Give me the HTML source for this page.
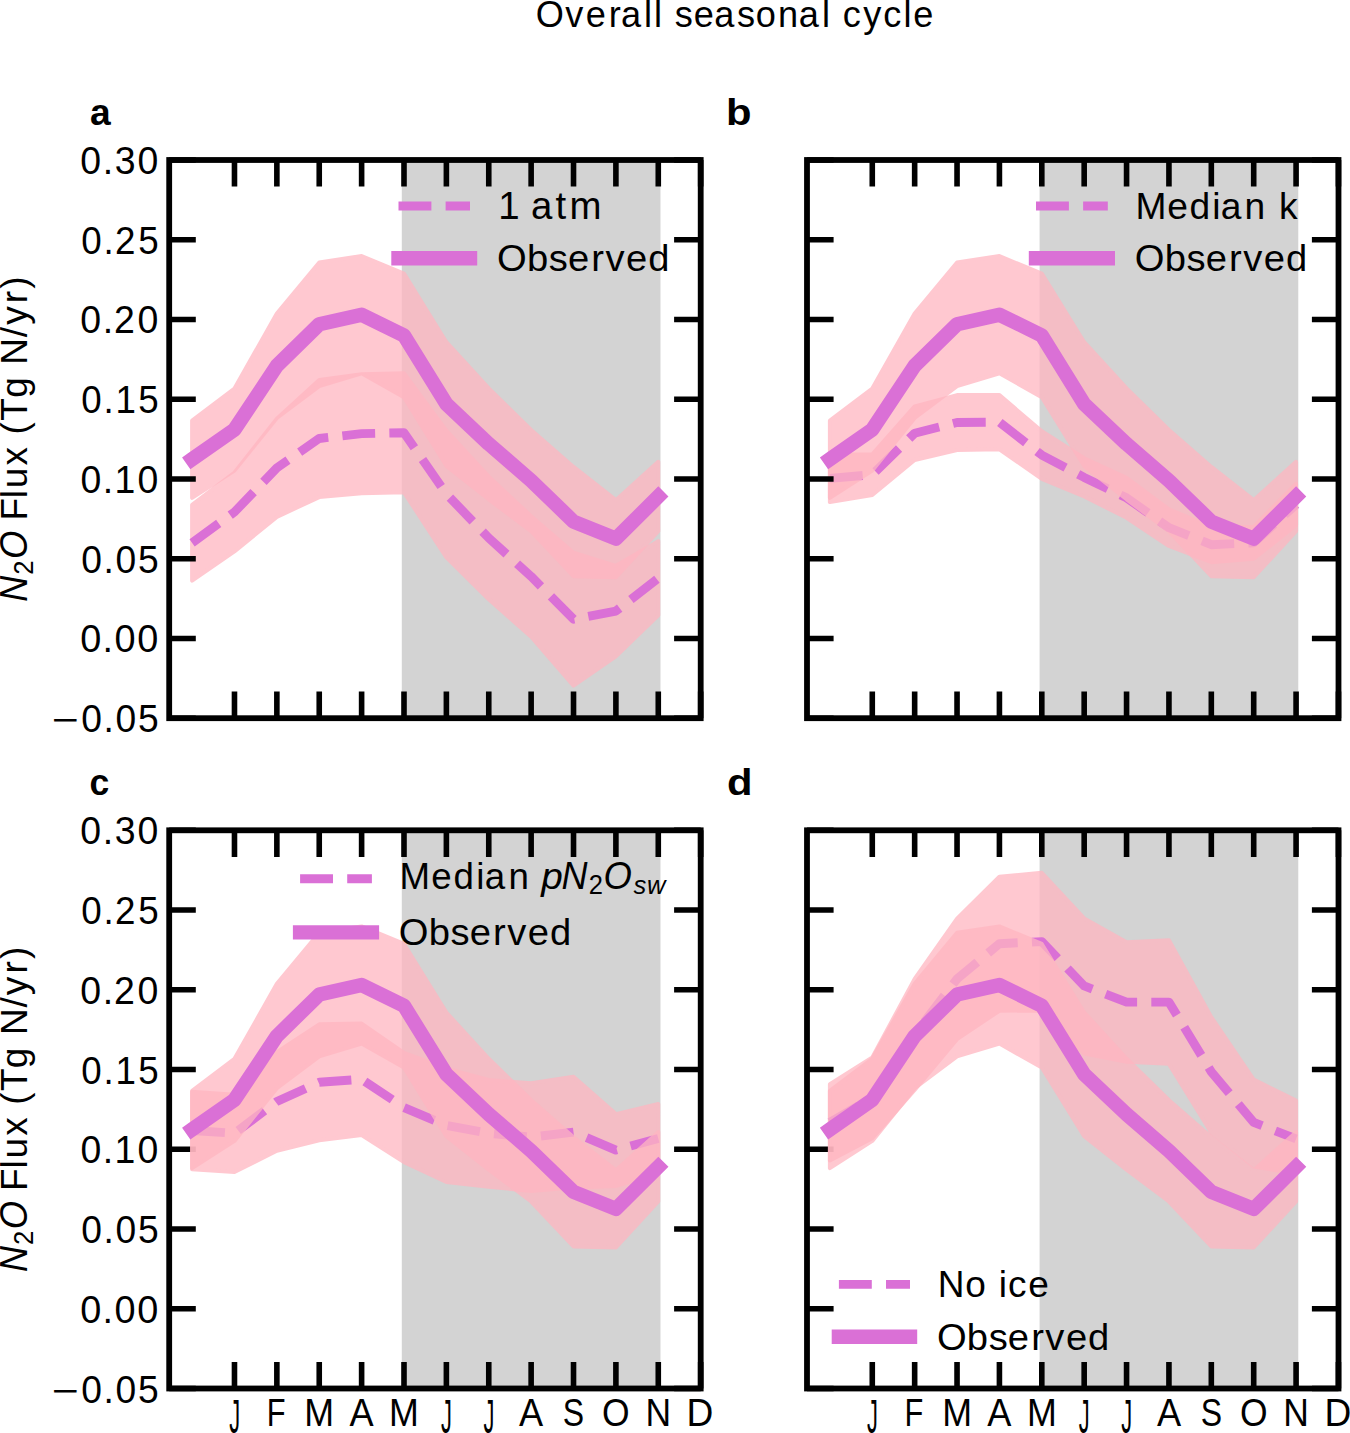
<!DOCTYPE html>
<html><head><meta charset="utf-8"><title>Overall seasonal cycle</title>
<style>html,body{margin:0;padding:0;background:#fff;width:1350px;height:1433px;overflow:hidden;}svg{display:block;}text{font-family:"Liberation Sans",sans-serif;fill:#000;}</style>
</head><body>
<svg width="1350" height="1433" viewBox="0 0 1350 1433">
<rect width="1350" height="1433" fill="#fff"/>
<rect x="401.80" y="160.0" width="258.68" height="558.2" fill="#D3D3D3"/>
<path d="M192.10,504.90 L234.48,472.52 L276.86,418.77 L319.24,379.86 L361.62,374.12 L404.00,373.16 L446.38,430.57 L488.76,476.67 L531.14,516.22 L573.52,552.74 L615.90,565.82 L658.28,541.10 L658.28,615.26 L615.90,656.25 L573.52,685.60 L531.14,636.64 L488.76,599.32 L446.38,557.37 L404.00,492.30 L361.62,493.25 L319.24,497.08 L276.86,516.86 L234.48,551.47 L192.10,580.65 Z" fill="#FFB6C1" stroke="#FFB6C1" stroke-width="3.9872500000000004" stroke-linejoin="round" opacity="0.75"/>
<polyline points="192.10,542.78 234.48,511.99 276.86,467.82 319.24,438.47 361.62,433.68 404.00,432.73 446.38,493.97 488.76,537.99 531.14,576.43 573.52,619.17 615.90,611.04 658.28,578.18" fill="none" stroke="#DA70D6" stroke-width="8.89" stroke-dasharray="32.89 14.22" stroke-linejoin="round" stroke-linecap="butt"/>
<path d="M192.10,420.53 L234.48,388.47 L276.86,313.51 L319.24,262.47 L361.62,256.09 L404.00,273.64 L446.38,342.22 L488.76,388.47 L531.14,429.94 L573.52,466.94 L615.90,500.11 L658.28,461.83 L658.28,531.21 L615.90,577.15 L573.52,576.19 L531.14,531.21 L488.76,499.31 L446.38,465.82 L404.00,397.24 L361.62,373.32 L319.24,386.08 L276.86,417.98 L234.48,470.61 L192.10,497.88 Z" fill="#FFB6C1" stroke="#FFB6C1" stroke-width="3.9872500000000004" stroke-linejoin="round" opacity="0.75"/>
<polyline points="192.10,459.20 234.48,429.54 276.86,365.74 319.24,324.27 361.62,314.71 404.00,335.44 446.38,404.02 488.76,443.89 531.14,480.57 573.52,521.56 615.90,538.63 658.28,496.52" fill="none" stroke="#DA70D6" stroke-width="14.4" stroke-linejoin="round" stroke-linecap="square"/>
<path d="M234.48,718.20V691.60M234.48,160.00V186.60M276.86,718.20V691.60M276.86,160.00V186.60M319.24,718.20V691.60M319.24,160.00V186.60M361.62,718.20V691.60M361.62,160.00V186.60M404.00,718.20V691.60M404.00,160.00V186.60M446.38,718.20V691.60M446.38,160.00V186.60M488.76,718.20V691.60M488.76,160.00V186.60M531.14,718.20V691.60M531.14,160.00V186.60M573.52,718.20V691.60M573.52,160.00V186.60M615.90,718.20V691.60M615.90,160.00V186.60M658.28,718.20V691.60M658.28,160.00V186.60M700.66,718.20V691.60M700.66,160.00V186.60M169.20,718.22H195.80M700.70,718.22H674.10M169.20,638.47H195.80M700.70,638.47H674.10M169.20,558.73H195.80M700.70,558.73H674.10M169.20,478.98H195.80M700.70,478.98H674.10M169.20,399.23H195.80M700.70,399.23H674.10M169.20,319.49H195.80M700.70,319.49H674.10M169.20,239.74H195.80M700.70,239.74H674.10M169.20,160.00H195.80M700.70,160.00H674.10" stroke="#000" stroke-width="5.6" fill="none"/>
<rect x="169.2" y="160.0" width="531.5" height="558.2" fill="none" stroke="#000" stroke-width="5.8" stroke-linejoin="miter"/>
<line x1="398.5" y1="206.0" x2="470.0" y2="206.0" stroke="#DA70D6" stroke-width="8.89" stroke-dasharray="32.89 14.22"/>
<line x1="398.5" y1="258.3" x2="470.0" y2="258.3" stroke="#DA70D6" stroke-width="14.4" stroke-linecap="square"/>
<text transform="translate(497.70,219.00) scale(1.0699,1.0596)" x="0.51 21.35 31.04 54.07 67.22" font-size="35.90" >1 atm</text>
<text transform="translate(497.70,270.80) scale(1.0632,1.0483)" x="-0.66 27.53 48.06 66.08 87.98 101.30 120.72 141.55" font-size="35.90" >Observed</text>
<rect x="1039.60" y="160.0" width="258.68" height="558.2" fill="#D3D3D3"/>
<path d="M829.90,454.58 L872.28,454.42 L914.66,406.41 L957.04,395.09 L999.42,395.09 L1041.80,431.29 L1084.18,458.25 L1126.56,477.86 L1168.94,509.28 L1211.32,527.15 L1253.70,526.83 L1296.08,483.76 L1296.08,525.23 L1253.70,558.73 L1211.32,562.23 L1168.94,545.97 L1126.56,517.74 L1084.18,496.52 L1041.80,478.82 L999.42,449.31 L957.04,449.95 L914.66,460.00 L872.28,494.93 L829.90,502.11 Z" fill="#FFB6C1" stroke="#FFB6C1" stroke-width="3.9872500000000004" stroke-linejoin="round" opacity="0.75"/>
<polyline points="829.90,478.34 872.28,474.67 914.66,433.21 957.04,422.52 999.42,422.20 1041.80,455.06 1084.18,477.39 1126.56,497.80 1168.94,527.62 1211.32,544.69 1253.70,542.78 1296.08,504.50" fill="none" stroke="#DA70D6" stroke-width="8.89" stroke-dasharray="32.89 14.22" stroke-linejoin="round" stroke-linecap="butt"/>
<path d="M829.90,420.53 L872.28,388.47 L914.66,313.51 L957.04,262.47 L999.42,256.09 L1041.80,273.64 L1084.18,342.22 L1126.56,388.47 L1168.94,429.94 L1211.32,466.94 L1253.70,500.11 L1296.08,461.83 L1296.08,531.21 L1253.70,577.15 L1211.32,576.19 L1168.94,531.21 L1126.56,499.31 L1084.18,465.82 L1041.80,397.24 L999.42,373.32 L957.04,386.08 L914.66,417.98 L872.28,470.61 L829.90,497.88 Z" fill="#FFB6C1" stroke="#FFB6C1" stroke-width="3.9872500000000004" stroke-linejoin="round" opacity="0.75"/>
<polyline points="829.90,459.20 872.28,429.54 914.66,365.74 957.04,324.27 999.42,314.71 1041.80,335.44 1084.18,404.02 1126.56,443.89 1168.94,480.57 1211.32,521.56 1253.70,538.63 1296.08,496.52" fill="none" stroke="#DA70D6" stroke-width="14.4" stroke-linejoin="round" stroke-linecap="square"/>
<path d="M872.28,718.20V691.60M872.28,160.00V186.60M914.66,718.20V691.60M914.66,160.00V186.60M957.04,718.20V691.60M957.04,160.00V186.60M999.42,718.20V691.60M999.42,160.00V186.60M1041.80,718.20V691.60M1041.80,160.00V186.60M1084.18,718.20V691.60M1084.18,160.00V186.60M1126.56,718.20V691.60M1126.56,160.00V186.60M1168.94,718.20V691.60M1168.94,160.00V186.60M1211.32,718.20V691.60M1211.32,160.00V186.60M1253.70,718.20V691.60M1253.70,160.00V186.60M1296.08,718.20V691.60M1296.08,160.00V186.60M1338.46,718.20V691.60M1338.46,160.00V186.60M807.00,718.22H833.60M1338.50,718.22H1311.90M807.00,638.47H833.60M1338.50,638.47H1311.90M807.00,558.73H833.60M1338.50,558.73H1311.90M807.00,478.98H833.60M1338.50,478.98H1311.90M807.00,399.23H833.60M1338.50,399.23H1311.90M807.00,319.49H833.60M1338.50,319.49H1311.90M807.00,239.74H833.60M1338.50,239.74H1311.90M807.00,160.00H833.60M1338.50,160.00H1311.90" stroke="#000" stroke-width="5.6" fill="none"/>
<rect x="807.0" y="160.0" width="531.5" height="558.2" fill="none" stroke="#000" stroke-width="5.8" stroke-linejoin="miter"/>
<line x1="1036.0" y1="206.0" x2="1107.8" y2="206.0" stroke="#DA70D6" stroke-width="8.89" stroke-dasharray="32.89 14.22"/>
<line x1="1036.0" y1="258.3" x2="1107.8" y2="258.3" stroke="#DA70D6" stroke-width="14.4" stroke-linecap="square"/>
<text transform="translate(1135.50,219.00) scale(1.0354,1.0483)" x="0.01 30.67 52.05 74.09 82.24 105.23 126.11 138.50" font-size="35.90" >Median k</text>
<text transform="translate(1135.50,270.80) scale(1.0632,1.0483)" x="-0.66 27.53 48.06 66.08 87.98 101.30 120.72 141.55" font-size="35.90" >Observed</text>
<rect x="401.80" y="830.3" width="258.68" height="558.2" fill="#D3D3D3"/>
<path d="M234.48,1388.50V1361.90M234.48,830.30V856.90M276.86,1388.50V1361.90M276.86,830.30V856.90M319.24,1388.50V1361.90M319.24,830.30V856.90M361.62,1388.50V1361.90M361.62,830.30V856.90M404.00,1388.50V1361.90M404.00,830.30V856.90M446.38,1388.50V1361.90M446.38,830.30V856.90M488.76,1388.50V1361.90M488.76,830.30V856.90M531.14,1388.50V1361.90M531.14,830.30V856.90M573.52,1388.50V1361.90M573.52,830.30V856.90M615.90,1388.50V1361.90M615.90,830.30V856.90M658.28,1388.50V1361.90M658.28,830.30V856.90M700.66,1388.50V1361.90M700.66,830.30V856.90M169.20,1388.51H195.80M700.70,1388.51H674.10M169.20,1308.77H195.80M700.70,1308.77H674.10M169.20,1229.03H195.80M700.70,1229.03H674.10M169.20,1149.28H195.80M700.70,1149.28H674.10M169.20,1069.53H195.80M700.70,1069.53H674.10M169.20,989.79H195.80M700.70,989.79H674.10M169.20,910.04H195.80M700.70,910.04H674.10M169.20,830.30H195.80M700.70,830.30H674.10" stroke="#000" stroke-width="5.6" fill="none"/>
<rect x="169.2" y="830.3" width="531.5" height="558.2" fill="none" stroke="#000" stroke-width="5.8" stroke-linejoin="miter"/>
<path d="M192.10,1091.78 L234.48,1094.65 L276.86,1052.07 L319.24,1024.32 L361.62,1023.52 L404.00,1052.87 L446.38,1068.66 L488.76,1079.98 L531.14,1083.33 L573.52,1076.63 L615.90,1114.11 L658.28,1104.06 L658.28,1172.80 L615.90,1186.04 L573.52,1187.48 L531.14,1190.99 L488.76,1186.68 L446.38,1182.06 L404.00,1162.12 L361.62,1135.01 L319.24,1140.27 L276.86,1150.80 L234.48,1172.01 L192.10,1169.14 Z" fill="#FFB6C1" stroke="#FFB6C1" stroke-width="3.9872500000000004" stroke-linejoin="round" opacity="0.75"/>
<polyline points="192.10,1130.46 234.48,1133.33 276.86,1101.43 319.24,1082.29 361.62,1079.26 404.00,1107.49 446.38,1125.36 488.76,1133.33 531.14,1137.16 573.52,1132.06 615.90,1150.08 658.28,1138.43" fill="none" stroke="#DA70D6" stroke-width="8.89" stroke-dasharray="32.89 14.22" stroke-linejoin="round" stroke-linecap="butt"/>
<path d="M192.10,1090.83 L234.48,1058.77 L276.86,983.81 L319.24,932.77 L361.62,926.39 L404.00,943.94 L446.38,1012.52 L488.76,1058.77 L531.14,1100.24 L573.52,1137.24 L615.90,1170.41 L658.28,1132.13 L658.28,1201.51 L615.90,1247.45 L573.52,1246.49 L531.14,1201.51 L488.76,1169.61 L446.38,1136.12 L404.00,1067.54 L361.62,1043.62 L319.24,1056.38 L276.86,1088.28 L234.48,1140.91 L192.10,1168.18 Z" fill="#FFB6C1" stroke="#FFB6C1" stroke-width="3.9872500000000004" stroke-linejoin="round" opacity="0.75"/>
<polyline points="192.10,1129.50 234.48,1099.84 276.86,1036.04 319.24,994.57 361.62,985.01 404.00,1005.74 446.38,1074.32 488.76,1114.19 531.14,1150.87 573.52,1191.86 615.90,1208.93 658.28,1166.82" fill="none" stroke="#DA70D6" stroke-width="14.4" stroke-linejoin="round" stroke-linecap="square"/>
<line x1="300.1" y1="878.7" x2="371.9" y2="878.7" stroke="#DA70D6" stroke-width="8.89" stroke-dasharray="32.89 14.22"/>
<line x1="300.1" y1="932.4" x2="371.9" y2="932.4" stroke="#DA70D6" stroke-width="14.4" stroke-linecap="square"/>
<text transform="translate(399.38,888.80) scale(1.0218,1.0483)" x="0.21 31.21 52.87 75.13 83.48 106.77" font-size="35.90" >Median</text>
<text transform="translate(541.17,888.80) scale(1.0783,1.0409)" font-size="35.90" font-style="italic" >p</text>
<text transform="translate(561.48,888.80) scale(1.0029,1.0596)" font-size="35.90" font-style="italic" >N</text>
<text transform="translate(588.72,894.40) scale(1.0154,1.0630)" font-size="25.13" >2</text>
<text transform="translate(603.53,888.80) scale(1.0158,1.0630)" font-size="35.90" font-style="italic" >O</text>
<text transform="translate(633.22,894.40) scale(1.0175,1.0428)" x="0.25 13.65" font-size="25.13" font-style="italic" >sw</text>
<text transform="translate(399.50,945.00) scale(1.0632,1.0483)" x="-0.66 27.53 48.06 66.08 87.98 101.30 120.72 141.55" font-size="35.90" >Observed</text>
<rect x="1039.60" y="830.3" width="258.68" height="558.2" fill="#D3D3D3"/>
<path d="M872.28,1388.50V1361.90M872.28,830.30V856.90M914.66,1388.50V1361.90M914.66,830.30V856.90M957.04,1388.50V1361.90M957.04,830.30V856.90M999.42,1388.50V1361.90M999.42,830.30V856.90M1041.80,1388.50V1361.90M1041.80,830.30V856.90M1084.18,1388.50V1361.90M1084.18,830.30V856.90M1126.56,1388.50V1361.90M1126.56,830.30V856.90M1168.94,1388.50V1361.90M1168.94,830.30V856.90M1211.32,1388.50V1361.90M1211.32,830.30V856.90M1253.70,1388.50V1361.90M1253.70,830.30V856.90M1296.08,1388.50V1361.90M1296.08,830.30V856.90M1338.46,1388.50V1361.90M1338.46,830.30V856.90M807.00,1388.51H833.60M1338.50,1388.51H1311.90M807.00,1308.77H833.60M1338.50,1308.77H1311.90M807.00,1229.03H833.60M1338.50,1229.03H1311.90M807.00,1149.28H833.60M1338.50,1149.28H1311.90M807.00,1069.53H833.60M1338.50,1069.53H1311.90M807.00,989.79H833.60M1338.50,989.79H1311.90M807.00,910.04H833.60M1338.50,910.04H1311.90M807.00,830.30H833.60M1338.50,830.30H1311.90" stroke="#000" stroke-width="5.6" fill="none"/>
<rect x="807.0" y="830.3" width="531.5" height="558.2" fill="none" stroke="#000" stroke-width="5.8" stroke-linejoin="miter"/>
<path d="M829.90,1084.13 L872.28,1057.33 L914.66,979.02 L957.04,918.74 L999.42,876.63 L1041.80,872.80 L1084.18,918.42 L1126.56,942.34 L1168.94,940.27 L1211.32,1017.14 L1253.70,1079.66 L1296.08,1100.56 L1296.08,1173.60 L1253.70,1166.43 L1211.32,1132.77 L1168.94,1063.87 L1126.56,1061.80 L1084.18,1053.51 L1041.80,1010.44 L999.42,1010.76 L957.04,1039.15 L914.66,1089.87 L872.28,1138.20 L829.90,1160.52 Z" fill="#FFB6C1" stroke="#FFB6C1" stroke-width="3.9872500000000004" stroke-linejoin="round" opacity="0.75"/>
<polyline points="829.90,1122.33 872.28,1097.76 914.66,1034.45 957.04,978.94 999.42,943.70 1041.80,941.62 1084.18,985.96 1126.56,1002.07 1168.94,1002.07 1211.32,1071.93 1253.70,1122.33 1296.08,1138.91" fill="none" stroke="#DA70D6" stroke-width="8.89" stroke-dasharray="32.89 14.22" stroke-linejoin="round" stroke-linecap="butt"/>
<path d="M829.90,1090.83 L872.28,1058.77 L914.66,983.81 L957.04,932.77 L999.42,926.39 L1041.80,943.94 L1084.18,1012.52 L1126.56,1058.77 L1168.94,1100.24 L1211.32,1137.24 L1253.70,1170.41 L1296.08,1132.13 L1296.08,1201.51 L1253.70,1247.45 L1211.32,1246.49 L1168.94,1201.51 L1126.56,1169.61 L1084.18,1136.12 L1041.80,1067.54 L999.42,1043.62 L957.04,1056.38 L914.66,1088.28 L872.28,1140.91 L829.90,1168.18 Z" fill="#FFB6C1" stroke="#FFB6C1" stroke-width="3.9872500000000004" stroke-linejoin="round" opacity="0.75"/>
<polyline points="829.90,1129.50 872.28,1099.84 914.66,1036.04 957.04,994.57 999.42,985.01 1041.80,1005.74 1084.18,1074.32 1126.56,1114.19 1168.94,1150.87 1211.32,1191.86 1253.70,1208.93 1296.08,1166.82" fill="none" stroke="#DA70D6" stroke-width="14.4" stroke-linejoin="round" stroke-linecap="square"/>
<line x1="838.9" y1="1284.4" x2="910.0" y2="1284.4" stroke="#DA70D6" stroke-width="8.89" stroke-dasharray="32.89 14.22"/>
<line x1="838.9" y1="1336.7" x2="910.0" y2="1336.7" stroke="#DA70D6" stroke-width="14.4" stroke-linecap="square"/>
<text transform="translate(937.60,1297.30) scale(1.0312,1.0483)" x="0.04 26.72 47.34 59.26 68.27 88.02" font-size="35.90" >No ice</text>
<text transform="translate(937.60,1349.70) scale(1.0632,1.0483)" x="-0.66 27.53 48.06 66.08 87.98 101.30 120.72 141.55" font-size="35.90" >Observed</text>
<text transform="translate(535.81,27.40) scale(1.0073,1.0483)" x="-0.05 29.30 49.66 72.42 84.50 107.52 117.34 126.23 137.91 156.81 177.13 199.69 218.46 240.54 261.17 284.19 293.08 304.64 325.19 344.96 364.98 374.82" font-size="35.90" >Overall seasonal cycle</text>
<text transform="translate(51.57,732.22) scale(1.2881,0.9647)" font-size="35.90" >−</text>
<text transform="translate(80.11,732.22) scale(1.0374,1.0630)" x="1.02 22.51 34.04 55.93" font-size="35.90" >0.05</text>
<text transform="translate(79.36,652.47) scale(1.0556,1.0630)" x="0.84 22.04 33.28 54.92" font-size="35.90" >0.00</text>
<text transform="translate(80.11,572.73) scale(1.0374,1.0630)" x="1.02 22.51 34.04 55.93" font-size="35.90" >0.05</text>
<text transform="translate(79.36,492.98) scale(1.0418,1.0630)" x="0.98 22.40 33.68 55.78" font-size="35.90" >0.10</text>
<text transform="translate(80.11,413.23) scale(1.0230,1.0630)" x="1.18 22.90 34.49 56.85" font-size="35.90" >0.15</text>
<text transform="translate(79.36,333.49) scale(1.0438,1.0630)" x="0.96 22.34 33.31 55.66" font-size="35.90" >0.20</text>
<text transform="translate(80.11,253.74) scale(1.0253,1.0630)" x="1.15 22.84 34.09 56.70" font-size="35.90" >0.25</text>
<text transform="translate(79.36,174.00) scale(1.0426,1.0630)" x="0.97 22.38 33.86 55.73" font-size="35.90" >0.30</text>
<text transform="translate(51.57,1402.51) scale(1.2881,0.9647)" font-size="35.90" >−</text>
<text transform="translate(80.11,1402.51) scale(1.0374,1.0630)" x="1.02 22.51 34.04 55.93" font-size="35.90" >0.05</text>
<text transform="translate(79.36,1322.77) scale(1.0556,1.0630)" x="0.84 22.04 33.28 54.92" font-size="35.90" >0.00</text>
<text transform="translate(80.11,1243.03) scale(1.0374,1.0630)" x="1.02 22.51 34.04 55.93" font-size="35.90" >0.05</text>
<text transform="translate(79.36,1163.28) scale(1.0418,1.0630)" x="0.98 22.40 33.68 55.78" font-size="35.90" >0.10</text>
<text transform="translate(80.11,1083.53) scale(1.0230,1.0630)" x="1.18 22.90 34.49 56.85" font-size="35.90" >0.15</text>
<text transform="translate(79.36,1003.79) scale(1.0438,1.0630)" x="0.96 22.34 33.31 55.66" font-size="35.90" >0.20</text>
<text transform="translate(80.11,924.04) scale(1.0253,1.0630)" x="1.15 22.84 34.09 56.70" font-size="35.90" >0.25</text>
<text transform="translate(79.36,844.30) scale(1.0426,1.0630)" x="0.97 22.38 33.86 55.73" font-size="35.90" >0.30</text>
<text transform="translate(229.16,1433.00) scale(0.6073,1.3309)" font-size="35.90" >J</text>
<text transform="translate(266.82,1426.30) scale(0.8569,1.0596)" font-size="35.90" >F</text>
<text transform="translate(304.33,1426.30) scale(0.9970,1.0596)" font-size="35.90" >M</text>
<text transform="translate(349.56,1426.30) scale(1.0075,1.0596)" font-size="35.90" >A</text>
<text transform="translate(389.09,1426.30) scale(0.9970,1.0596)" font-size="35.90" >M</text>
<text transform="translate(441.06,1433.00) scale(0.6073,1.3309)" font-size="35.90" >J</text>
<text transform="translate(483.44,1433.00) scale(0.6073,1.3309)" font-size="35.90" >J</text>
<text transform="translate(519.08,1426.30) scale(1.0075,1.0596)" font-size="35.90" >A</text>
<text transform="translate(562.87,1426.30) scale(0.8906,1.0630)" font-size="35.90" >S</text>
<text transform="translate(602.12,1426.30) scale(0.9883,1.0630)" font-size="35.90" >O</text>
<text transform="translate(645.46,1426.30) scale(0.9875,1.0596)" font-size="35.90" >N</text>
<text transform="translate(686.61,1426.30) scale(1.0355,1.0596)" font-size="35.90" >D</text>
<text transform="translate(866.96,1433.00) scale(0.6073,1.3309)" font-size="35.90" >J</text>
<text transform="translate(904.62,1426.30) scale(0.8569,1.0596)" font-size="35.90" >F</text>
<text transform="translate(942.13,1426.30) scale(0.9970,1.0596)" font-size="35.90" >M</text>
<text transform="translate(987.36,1426.30) scale(1.0075,1.0596)" font-size="35.90" >A</text>
<text transform="translate(1026.89,1426.30) scale(0.9970,1.0596)" font-size="35.90" >M</text>
<text transform="translate(1078.86,1433.00) scale(0.6073,1.3309)" font-size="35.90" >J</text>
<text transform="translate(1121.24,1433.00) scale(0.6073,1.3309)" font-size="35.90" >J</text>
<text transform="translate(1156.88,1426.30) scale(1.0075,1.0596)" font-size="35.90" >A</text>
<text transform="translate(1200.67,1426.30) scale(0.8906,1.0630)" font-size="35.90" >S</text>
<text transform="translate(1239.92,1426.30) scale(0.9883,1.0630)" font-size="35.90" >O</text>
<text transform="translate(1283.26,1426.30) scale(0.9875,1.0596)" font-size="35.90" >N</text>
<text transform="translate(1324.41,1426.30) scale(1.0355,1.0596)" font-size="35.90" >D</text>
<g transform="translate(27.0,600.70) rotate(-90)">
<text transform="translate(-1.12,0.00) scale(1.0029,1.0596)" font-size="35.90" font-style="italic" >N</text>
<text transform="translate(25.92,6.10) scale(1.0154,1.0630)" font-size="25.13" >2</text>
<text transform="translate(41.63,0.00) scale(1.0158,1.0630)" font-size="35.90" font-style="italic" >O</text>
<text transform="translate(81.21,0.00) scale(1.0305,1.0483)" x="-1.10 20.68 30.33 52.52 71.77 82.60 95.82 118.07 139.23 150.14 176.86 188.90 209.89 223.96" font-size="35.90" >Flux (Tg N/yr)</text>
</g>
<g transform="translate(27.0,1271.00) rotate(-90)">
<text transform="translate(-1.12,0.00) scale(1.0029,1.0596)" font-size="35.90" font-style="italic" >N</text>
<text transform="translate(25.92,6.10) scale(1.0154,1.0630)" font-size="25.13" >2</text>
<text transform="translate(41.63,0.00) scale(1.0158,1.0630)" font-size="35.90" font-style="italic" >O</text>
<text transform="translate(81.21,0.00) scale(1.0305,1.0483)" x="-1.10 20.68 30.33 52.52 71.77 82.60 95.82 118.07 139.23 150.14 176.86 188.90 209.89 223.96" font-size="35.90" >Flux (Tg N/yr)</text>
</g>
<text transform="translate(90.02,124.80) scale(1.0356,1.0409)" font-size="35.90" font-weight="bold" >a</text>
<text transform="translate(726.04,124.80) scale(1.1647,1.0483)" font-size="35.90" font-weight="bold" >b</text>
<text transform="translate(89.51,795.00) scale(0.9898,1.0409)" font-size="35.90" font-weight="bold" >c</text>
<text transform="translate(727.09,795.00) scale(1.1647,1.0483)" font-size="35.90" font-weight="bold" >d</text>
</svg></body></html>
